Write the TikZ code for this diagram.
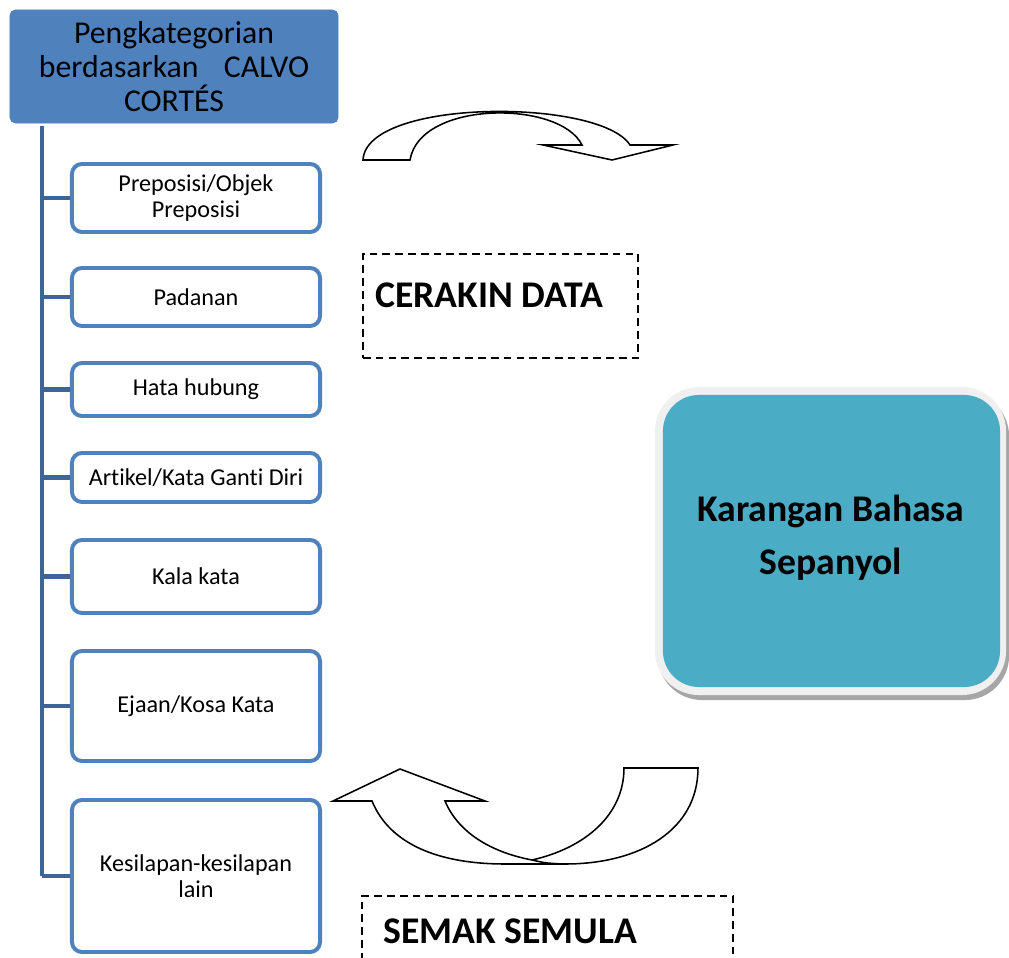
\documentclass[tikz,border=0pt]{standalone}
\usepackage{fontspec}
\setmainfont{Carlito}[Ligatures={NoCommon}]
\usepackage{tikz}
\usetikzlibrary{positioning}
\definecolor{hdblue}{RGB}{79,129,189}
\definecolor{spblue}{RGB}{61,101,152}
\definecolor{karteal}{RGB}{75,172,198}
\tikzset{
  hd/.style={rectangle,rounded corners=4pt,fill=hdblue,draw=hdblue,line width=.6pt,
    align=center,inner sep=0pt,font=\fontsize{22.6}{24.4}\selectfont},
  kat/.style={rectangle,rounded corners=.25cm,draw=hdblue,fill=white,line width=2.8pt,
    align=center,inner sep=0pt,minimum width=6.2cm,font=\fontsize{17.2}{18.8}\selectfont},
  trunk/.style={draw=spblue,line width=3.4pt},
  twig/.style={draw=spblue,line width=3.2pt},
  dbox/.style={rectangle,draw=black,line width=1.8pt,dash pattern=on 5.5pt off 3.6pt,inner sep=0pt},
  big/.style={font=\fontsize{26.8}{37.8}\selectfont\bfseries},
  blk/.style={draw=black,fill=white,line width=1.1pt,line join=miter},
  % the rounded panel on the right: shadow, pale frame, then the teal face
  kshadow/.style={rectangle,rounded corners=1.1cm,fill=black!35,inner sep=0pt},
  kframe/.style={rectangle,rounded corners=1.1cm,fill=black!6,inner sep=0pt},
  kface/.style={rectangle,rounded corners=.9cm,fill=karteal,inner sep=0pt},
}

\begin{document}
\begin{tikzpicture}[x=0.025cm,y=-0.025cm]
\useasboundingbox (0,0) rectangle (1009,958);
% the category tree
\node[hd,minimum width=8.2cm,minimum height=2.825cm] (hd) at (174,66.5)
  {Pengkategorian\\berdasarkan\hspace{0.8em}CALVO\\CORTÉS};
\node[kat,minimum height=1.7cm] (k1) at (196,198) {Preposisi/Objek\\Preposisi};
\node[kat,minimum height=1.45cm] (k2) at (196,297) {Padanan};
\node[kat,minimum height=1.325cm] (k3) at (196,389.5) {Hata hubung};
\node[kat,minimum height=1.225cm] (k4) at (196,477.5) {Artikel/Kata Ganti Diri};
\node[kat,minimum height=1.825cm] (k5) at (196,576.5) {Kala kata};
\node[kat,minimum height=2.75cm] (k6) at (196,706) {Ejaan/Kosa Kata};
\node[kat,minimum height=3.8cm] (k7) at (196,876) {Kesilapan-kesilapan\\lain};
\coordinate (spine) at (42,126);
\draw[trunk] (spine) -- (spine |- k7.west);
\foreach \k in {k1,k2,k3,k4,k5,k6,k7}
  \draw[twig] (spine |- \k.west) -- (\k.west);
% the two dashed labels
\node[dbox,minimum width=6.875cm,minimum height=2.6cm] (cer) at (500.5,306) {};
\node[big,anchor=base west,inner sep=0pt] (certx) at (375,308) {CERAKIN DATA};
\node[dbox,minimum width=9.275cm,minimum height=2.1cm] (sem) at (547.5,938) {};
\node[big,anchor=base west,inner sep=0pt] (semtx) at (383,943) {SEMAK SEMULA};
% the text panel
\node[kshadow,minimum width=8.775cm,minimum height=7.7cm] (ksh) at (833.5,546) {};
\node[kframe,minimum width=8.775cm,minimum height=7.7cm] (kfr) at (830.5,541) {};
\node[kface,minimum width=8.425cm,minimum height=7.3cm] (kar) at (831.5,541) {};
\node[big,align=center] (kartx) at (831,538) {Karangan Bahasa\\Sepanyol};
% curved block arrows
\draw[blk] (363,160) -- (410,160) .. controls (420,100) and (560,100) .. (582,145)
  -- (543,145) -- (612,160) -- (673,145) -- (630,145)
  .. controls (600,98) and (366,98) .. (363,160) -- cycle;
\draw[blk] (333,801) -- (400,769) -- (485,801) -- (445,801)
  .. controls (458,832) and (490,852) .. (532,860)
  .. controls (585,848) and (624,815) .. (624,768) -- (698,768)
  .. controls (698,830) and (640,864) .. (565,864) -- (505,864)
  .. controls (440,864) and (390,845) .. (372,801) -- cycle;
\draw[blk,fill=none] (532,860) .. controls (545,863) .. (562,864);
\end{tikzpicture}
\end{document}
